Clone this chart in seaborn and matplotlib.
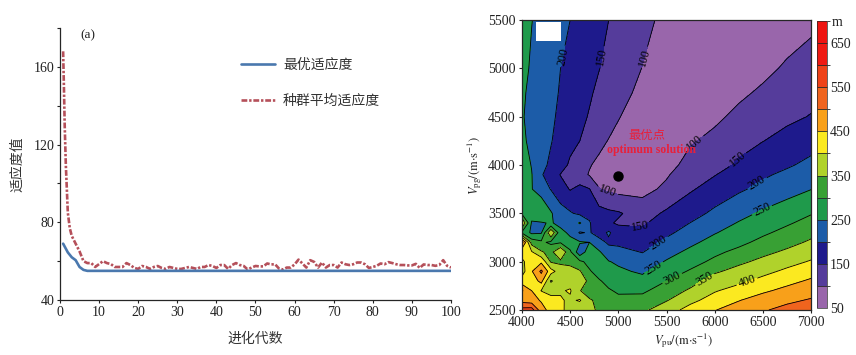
import numpy as np
import matplotlib
matplotlib.use('Agg')
import matplotlib.pyplot as plt
from matplotlib.colors import ListedColormap, BoundaryNorm
from matplotlib.patches import Rectangle
import seaborn as sns

# ── Panel (a): convergence curves ─────────────────────────────────────────────
best_gen = [0.8, 2, 3, 4, 5, 6, 7, 100]
best_fit = [69, 64.5, 62, 60.5, 57, 55.5, 55, 55]

mean_gen = [0.8, 1, 1.2, 1.5, 2, 2.5, 3, 4, 5, 6, 7, 8, 9, 10,
            11, 12, 13, 14, 15, 16, 17, 18, 19, 20, 21, 22, 23, 24, 25,
            26, 27, 28, 29, 30, 31, 32, 33, 34, 35, 36, 37, 38, 39, 40,
            41, 42, 43, 44, 45, 46, 47, 48, 49, 50, 51, 52, 53, 54, 55,
            56, 57, 58, 59, 60, 61, 62, 63, 64, 65, 66, 67, 68, 69, 70,
            71, 72, 73, 74, 75, 76, 77, 78, 79, 80, 81, 82, 83, 84, 85,
            86, 87, 88, 89, 90, 91, 92, 93, 94, 95, 96, 97, 98, 99, 100]
mean_fit = [168, 150, 130, 109, 85, 77, 73, 69, 65, 60, 59, 59, 57, 58.5,
            60, 59, 58.5, 57, 57, 57, 59, 58, 56.5, 56, 57.5, 57, 56, 57, 57.5,
            56.5, 56, 57, 56.5, 56, 56, 56.5, 57, 56.5, 56, 57, 57, 58, 57.5, 56.5,
            58, 58, 56, 58, 59, 58, 57.5, 55.7, 56.7, 57.5, 57.3, 57.3, 58.8, 58.3, 58.4,
            56.2, 55.7, 56.7, 56.7, 58.3, 60.8, 58.8, 56.7, 60.5, 59.6, 56.7, 59.3, 56.7, 58, 58,
            56.7, 59.3, 58.4, 58, 58.4, 59.3, 59.3, 58.4, 56.5, 57, 57.6, 58.8, 58.4, 59.5, 59,
            58.4, 58, 58, 57.8, 57.8, 58.6, 56.5, 58.3, 58, 58, 57.6, 58, 60.5, 57.6, 56.7]

# ── Panel (b): misfit surface ─────────────────────────────────────────────────
vpu = [4000, 4100, 4200, 4300, 4400, 4500, 4600, 4700, 4800, 4900, 5000,
       5250, 5500, 5750, 6000, 6250, 6500, 6750, 7000]
vpg = [2500, 2600, 2700, 2800, 2900, 3000, 3100, 3200, 3300, 3400, 3500,
       3750, 3900, 4000, 4250, 4500, 4750, 5000, 5500]

r2500 = [570, 575, 470, 432, 412, 380, 365, 358, 345, 335, 328, 340, 378, 418, 448, 472, 495, 515, 530]
r2600 = [480, 470, 445, 420, 405, 392, 405, 355, 340, 325, 312, 316, 347, 388, 420, 448, 472, 490, 505]
r2700 = [505, 450, 398, 380, 395, 405, 352, 330, 320, 305, 293, 292, 323, 358, 396, 418, 442, 463, 480]
r2800 = [420, 420, 465, 345, 375, 380, 385, 335, 305, 285, 272, 265, 300, 331, 373, 390, 413, 436, 457]
r2900 = [380, 445, 510, 420, 375, 390, 355, 305, 280, 265, 258, 243, 277, 305, 343, 366, 387, 409, 431]
r3000 = [395, 415, 440, 345, 340, 320, 310, 285, 262, 252, 243, 222, 254, 283, 310, 340, 362, 384, 404]
r3100 = [410, 405, 355, 335, 398, 310, 215, 280, 255, 225, 215, 198, 233, 261, 290, 312, 338, 358, 381]
r3200 = [520, 330, 310, 290, 295, 265, 255, 250, 222, 190, 190, 178, 211, 240, 267, 288, 313, 335, 357]
r3300 = [290, 240, 245, 398, 265, 240, 195, 205, 175, 208, 168, 160, 190, 220, 247, 270, 292, 314, 337]
r3400 = [400, 245, 245, 255, 235, 215, 255, 205, 162, 155, 145, 143, 174, 201, 228, 253, 275, 294, 316]
r3500 = [290, 270, 300, 255, 220, 205, 190, 185, 170, 160, 155, 128, 158, 182, 210, 235, 257, 276, 297]
r3750 = [275, 252, 225, 198, 170, 147, 165, 152, 102, 92, 85, 85, 110, 145, 170, 193, 213, 231, 249]
r3900 = [272, 252, 205, 175, 148, 130, 115, 97, 85, 75, 65, 72, 95, 130, 148, 172, 193, 210, 226]
r4000 = [272, 248, 215, 190, 170, 142, 125, 103, 90, 80, 70, 62, 82, 118, 132, 157, 178, 194, 212]
r4250 = [262, 235, 215, 203, 180, 165, 150, 128, 112, 98, 90, 72, 65, 95, 113, 133, 149, 164, 181]
r4500 = [255, 232, 220, 207, 192, 178, 160, 147, 132, 118, 102, 80, 65, 68, 90, 112, 128, 141, 152]
r4750 = [258, 238, 224, 210, 197, 183, 168, 155, 142, 129, 114, 90, 72, 63, 70, 90, 108, 124, 137]
r5000 = [262, 245, 228, 212, 200, 188, 175, 163, 151, 140, 125, 99, 78, 65, 58, 72, 87, 107, 121]
r5500 = [268, 251, 238, 225, 212, 200, 188, 176, 163, 150, 140, 113, 88, 70, 60, 52, 55, 72, 88]
misfit = np.array([r2500, r2600, r2700, r2800, r2900, r3000, r3100, r3200, r3300,
                   r3400, r3500, r3750, r3900, r4000, r4250, r4500, r4750, r5000, r5500])

levels = list(range(50, 701, 50))
label_levels = [100, 150, 200, 250, 300, 350, 400]
plain_levels = [v for v in levels if v not in label_levels]
band_colors = ["#9966AB", "#553C9B", "#1E1A8C", "#1C5CA8", "#1F9A4B", "#38A034",
               "#B0D22B", "#FBE920", "#F8A01A", "#F0641E", "#EE4218", "#EF1A12", "#EE1410"]
cbar_ticks = [50, 150, 250, 350, 450, 550, 650]

# where the contour labels sit, in data units
label_spots = [(4457, 5117), (4830, 5117), (5267, 5117), (4883, 3711), (5796, 4228),
               (5225, 3349), (6243, 4052), (5433, 3173), (6440, 3814), (5381, 2915),
               (6490, 3535), (5557, 2832), (5900, 2811), (6336, 2790)]

sns.set_style("ticks")
plt.rcParams.update({"font.family": ["Liberation Serif", "Noto Sans CJK SC"],
                     "mathtext.fontset": "stix", "axes.unicode_minus": False,
                     "axes.linewidth": 0.9})

W, H = 856, 355
fig = plt.figure(figsize=(W / 100, H / 100), dpi=100)

# ── Left panel ────────────────────────────────────────────────────────────────
ax = fig.add_axes([60 / W, 1 - 300 / H, 391 / W, 272 / H])
sns.lineplot(x=best_gen, y=best_fit, ax=ax, color="#4A78AE", linewidth=1.9,
             label="最优适应度", zorder=3)
sns.lineplot(x=mean_gen, y=mean_fit, ax=ax, color="#B5505A", linewidth=1.9,
             linestyle=(0, (2.2, 0.7, 0.9, 0.7)), label="种群平均适应度", zorder=2)
ax.set_xlim(0, 100)
ax.set_ylim(40, 180)
ax.set_xticks(range(0, 101, 10))
ax.set_yticks(range(40, 181, 20))
ax.set_yticklabels([str(v) if v in (40, 80, 120, 160) else "" for v in range(40, 181, 20)])
ax.tick_params(labelsize=10, length=2.5, width=0.8, pad=1.5, colors="#222222")
sns.despine(ax=ax)
ax.set_xlabel("进化代数", fontsize=10, color="#333333", labelpad=10)
ax.set_ylabel("适应度值", fontsize=10, color="#333333", labelpad=7)
ax.text(7.2, 176, "(a)", fontsize=9.5, ha="center", va="center", color="#222222")
ax.legend(loc="upper left", bbox_to_anchor=(0.463, 0.886), frameon=False, fontsize=10,
          handlelength=2.45, handletextpad=0.58, labelspacing=1.6, borderaxespad=0, borderpad=0,
          labelcolor="#333333")

# ── Right panel ───────────────────────────────────────────────────────────────
ax2 = fig.add_axes([522 / W, 1 - 310 / H, 289 / W, 290 / H])
cmap = ListedColormap(band_colors)
norm = BoundaryNorm(levels, cmap.N)
cf = ax2.contourf(vpu, vpg, misfit, levels=levels, cmap=cmap, norm=norm)
ax2.contour(vpu, vpg, misfit, levels=plain_levels, colors="black", linewidths=0.6)
cs = ax2.contour(vpu, vpg, misfit, levels=label_levels, colors="black", linewidths=0.6)
ax2.clabel(cs, manual=label_spots, fmt="%d", fontsize=8.5, inline=True, inline_spacing=2)
ax2.set_xlim(4000, 7000)
ax2.set_ylim(2500, 5500)
ax2.set_xticks(range(4000, 7001, 500))
ax2.set_yticks(range(2500, 5501, 500))
ax2.tick_params(labelsize=10, length=2.5, width=0.8, pad=2, colors="#222222")
ax2.set_xlabel(r"$V_{\mathrm{pu}}/(\mathrm{m{\cdot}s}^{-1})$", fontsize=9)
ax2.xaxis.set_label_coords(0.56, -0.072)
ax2.set_ylabel(r"$V_{\mathrm{pg}}/(\mathrm{m{\cdot}s}^{-1})$", fontsize=9)
ax2.yaxis.set_label_coords(-0.13, 0.5)
ax2.add_patch(Rectangle((4145, 5280), 255, 200, facecolor="white", edgecolor="none", zorder=5))
ax2.plot([5000], [3890], "o", color="black", markersize=6.5, zorder=6)
ax2.text(5298, 4300, "最优点", color="#E8203A", fontsize=8.9, ha="center", va="center", zorder=6)
ax2.text(5340, 4156, "optimum solution", color="#E8203A", fontsize=8.5, fontweight="bold",
         ha="center", va="center", zorder=6)

cax = fig.add_axes([817 / W, 1 - 308 / H, 9.5 / W, 287 / H])
cb = fig.colorbar(cf, cax=cax, ticks=cbar_ticks, drawedges=True, spacing="proportional")
cb.ax.tick_params(length=0, labelsize=10, pad=2.5, colors="#222222")
cb.dividers.set_linewidth(0.6)
cb.outline.set_linewidth(0.5)
fig.text(837 / W, 1 - 23 / H, "m", fontsize=10, ha="center", va="center", color="#222222")

fig.savefig("out.png", dpi=100)
plt.close(fig)
